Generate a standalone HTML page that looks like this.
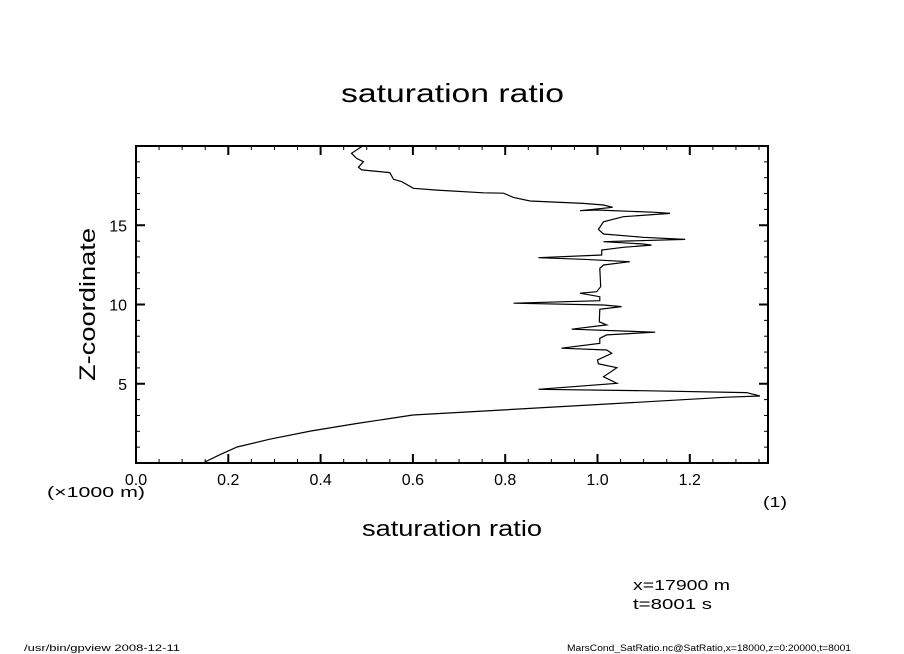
<!DOCTYPE html>
<html><head><meta charset="utf-8">
<style>
html,body{margin:0;padding:0;background:#fff;}
svg{display:block;font-family:"Liberation Sans","DejaVu Sans",sans-serif;}
</style></head>
<body>
<svg id="chart" width="904" height="654" viewBox="0 0 904 654" xmlns="http://www.w3.org/2000/svg">
<rect width="904" height="654" fill="#fff"/>
<text x="341" y="102" font-size="26" textLength="223" lengthAdjust="spacingAndGlyphs">saturation ratio</text>
<g id="ticks"></g>
<g id="ticklabels" font-size="16"></g>
<path id="series" fill="none" stroke="#000" stroke-width="1.2"/>
<rect x="136" y="146" width="632" height="317" fill="none" stroke="#000" stroke-width="2"/>
<text x="362" y="536" font-size="22" textLength="180" lengthAdjust="spacingAndGlyphs">saturation ratio</text>
<text transform="translate(95,381) rotate(-90)" font-size="22" textLength="153" lengthAdjust="spacingAndGlyphs">Z-coordinate</text>
<text x="47" y="497" font-size="15" textLength="98" lengthAdjust="spacingAndGlyphs">(×1000 m)</text>
<text x="763" y="507" font-size="15" textLength="24" lengthAdjust="spacingAndGlyphs">(1)</text>
<text x="633" y="590" font-size="15" textLength="97" lengthAdjust="spacingAndGlyphs">x=17900 m</text>
<text x="633" y="609" font-size="15" textLength="79" lengthAdjust="spacingAndGlyphs">t=8001 s</text>
<text x="24" y="651" font-size="9" textLength="156" lengthAdjust="spacingAndGlyphs">/usr/bin/gpview   2008-12-11</text>
<text x="567" y="651" font-size="9" textLength="284" lengthAdjust="spacingAndGlyphs">MarsCond_SatRatio.nc@SatRatio,x=18000,z=0:20000,t=8001</text>
</svg>
<script>
const satValues = [0.489,0.467,0.478,0.493,0.482,0.489,0.550,0.558,0.576,0.601,0.652,0.753,0.796,0.818,0.854,0.969,1.013,1.033,0.962,0.998,1.125,1.157,1.056,1.013,1.002,1.013,1.099,1.190,1.013,1.099,1.117,1.056,1.009,1.009,0.872,0.969,1.070,1.013,1.005,1.007,0.998,0.962,1.005,1.005,0.818,1.013,1.052,1.005,1.004,1.020,0.944,1.125,1.020,1.005,1.005,0.922,1.020,1.031,1.000,1.002,1.042,1.013,1.042,0.872,1.096,1.323,1.352,1.280,0.789,0.600,0.480,0.379,0.290,0.219,0.180,0.145];
const zValues = [19.96,19.54,19.22,19.01,18.66,18.49,18.32,17.90,17.75,17.33,17.22,17.05,17.02,16.76,16.53,16.38,16.28,16.13,15.92,15.96,15.82,15.75,15.54,15.22,14.74,14.45,14.24,14.11,13.96,13.82,13.75,13.61,13.44,13.12,12.95,12.85,12.70,12.49,12.28,11.12,10.81,10.71,10.49,10.24,10.08,9.97,9.87,9.70,8.91,8.71,8.44,8.25,8.08,7.87,7.55,7.24,7.13,6.92,6.50,6.25,6.01,5.44,5.03,4.65,4.56,4.44,4.23,4.15,3.34,3.03,2.5,2.02,1.5,1.01,0.5,0];
const xTickLabels = ["0.0","0.2","0.4","0.6","0.8","1.0","1.2"];
const yTickLabels = ["5","10","15"];

const X0=136, X1=768, Y0=463, Y1=146;
const xMin=0, xMax=632/461.5, zMin=0, zMax=20;
function sx(v){return X0+(v-xMin)/(xMax-xMin)*(X1-X0);}
function sy(v){return Y0-(v-zMin)/(zMax-zMin)*(Y0-Y1);}

const NS="http://www.w3.org/2000/svg";
const ticks=document.getElementById('ticks');
function line(x1,y1,x2,y2,w,name){
  const l=document.createElementNS(NS,'line');
  l.setAttribute('x1',x1);l.setAttribute('y1',y1);l.setAttribute('x2',x2);l.setAttribute('y2',y2);
  l.setAttribute('stroke','#000');l.setAttribute('stroke-width',w);
  
  
  ticks.appendChild(l);
}
for(let i=0;i*0.05<=xMax+1e-9;i++){
  const v=i*0.05, x=sx(v), major=(i%4===0), len=major?9:4;
  line(x,Y0,x,Y0-len,major?2:1,'x-tick');
  line(x,Y1,x,Y1+len,major?2:1,'x-tick-top');
}
for(let z=0;z<=20;z++){
  const y=sy(z), major=(z%5===0), len=major?9:4;
  line(X0,y,X0+len,y,major?2:1,'y-tick');
  line(X1,y,X1-len,y,major?2:1,'y-tick-right');
}
const tl=document.getElementById('ticklabels');
xTickLabels.forEach(s=>{
  const t=document.createElementNS(NS,'text');
  t.setAttribute('x',sx(parseFloat(s)));t.setAttribute('y',485);
  t.setAttribute('text-anchor','middle');
  
  
  t.textContent=s;tl.appendChild(t);
});
yTickLabels.forEach(s=>{
  const t=document.createElementNS(NS,'text');
  t.setAttribute('x',127);t.setAttribute('y',sy(parseFloat(s))+6);
  t.setAttribute('text-anchor','end');
  
  
  t.textContent=s;tl.appendChild(t);
});
let d='';
satValues.forEach((v,i)=>{d+=(i?'L':'M')+sx(v).toFixed(1)+','+sy(zValues[i]).toFixed(1);});
document.getElementById('series').setAttribute('d',d);
</script>
</body></html>
